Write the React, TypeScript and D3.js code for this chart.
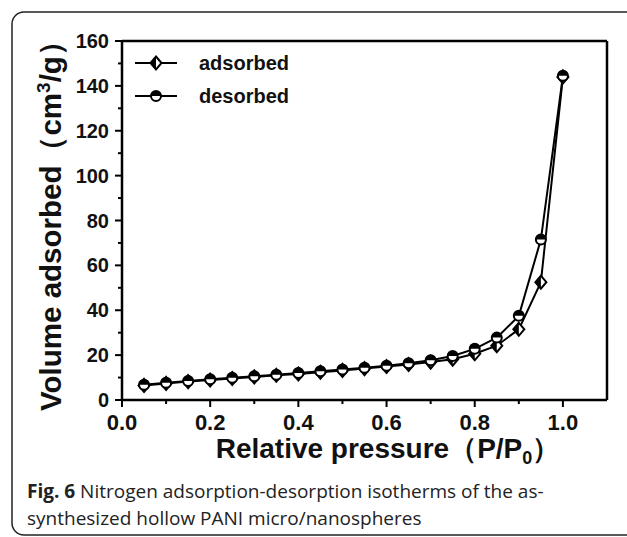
import React from "react";
import * as d3 from "d3";

const pressure = [0.05, 0.1, 0.15, 0.2, 0.25, 0.3, 0.35, 0.4, 0.45, 0.5, 0.55, 0.6, 0.65, 0.7, 0.75, 0.8, 0.85, 0.9, 0.95, 1.0];
const adsorbed = [6.5, 7.4, 8.2, 8.9, 9.6, 10.3, 11.0, 11.6, 12.4, 13.2, 14.0, 14.9, 15.8, 16.9, 18.2, 20.6, 24.2, 31.5, 52.5, 144];
const desorbed = [6.8, 7.7, 8.5, 9.2, 9.9, 10.6, 11.3, 12.0, 12.8, 13.6, 14.4, 15.3, 16.4, 17.7, 19.6, 22.8, 27.8, 37.5, 71.5, 144.5];
const xTicks = [0, 0.2, 0.4, 0.6, 0.8, 1.0];
const xMinor = [0.1, 0.3, 0.5, 0.7, 0.9];
const yTicks = [0, 20, 40, 60, 80, 100, 120, 140, 160];
const yMinor = [10, 30, 50, 70, 90, 110, 130, 150];
const seriesNames = ["adsorbed", "desorbed"];

const W = 627, H = 537;
const left = 122, right = 607, top = 41, bottom = 400;
const FONT = "'Liberation Sans', Arial, sans-serif";

function Diamond({ cx, cy }: { cx: number; cy: number }) {
  const w = 5.5, h = 6.5;
  return (
    <g>
      <path d={`M${cx},${cy - h} L${cx + w},${cy} L${cx},${cy + h} L${cx - w},${cy} Z`} fill="#fff" stroke="#000" strokeWidth={2} />
      <path d={`M${cx},${cy - h} L${cx - w},${cy} L${cx},${cy + h} Z`} fill="#000" />
    </g>
  );
}

function Circle({ cx, cy }: { cx: number; cy: number }) {
  const r = 5;
  return (
    <g>
      <circle cx={cx} cy={cy} r={r} fill="#fff" stroke="#000" strokeWidth={2} />
      <path d={`M${cx - r},${cy} A${r},${r} 0 0 1 ${cx + r},${cy} Z`} fill="#000" />
    </g>
  );
}

export default function App() {
  const x = d3.scaleLinear().domain([0, 1.1]).range([left, right]);
  const y = d3.scaleLinear().domain([0, 160]).range([bottom, top]);
  const line = d3.line<number>().x((_, i) => x(pressure[i])).y((d) => y(d));

  return (
    <svg width={W} height={H} style={{ position: "absolute", left: 0, top: 0, background: "#fff" }}>
      <rect x={0} y={0} width={W} height={H} fill="#fff" />
      <rect x={12} y={12} width={700} height={523} rx={12} ry={12} fill="none" stroke="#222" strokeWidth={1.5} />

      {/* frame */}
      <line x1={left} y1={top} x2={right} y2={top} stroke="#000" strokeWidth={2.5} />
      <line x1={right} y1={top} x2={right} y2={bottom} stroke="#000" strokeWidth={2.5} />
      <line x1={left} y1={bottom} x2={right} y2={bottom} stroke="#000" strokeWidth={2.5} />
      <line x1={left} y1={top} x2={left} y2={bottom} stroke="#000" strokeWidth={2.5} />

      {/* x ticks */}
      {xTicks.map((t) => (
        <g key={"xt" + t}>
          <line x1={x(t)} x2={x(t)} y1={bottom} y2={bottom + 7} stroke="#000" strokeWidth={2} />
          <text x={x(t)} y={430} textAnchor="middle" fontFamily={FONT} fontWeight="bold" fontSize={22} fill="#111">
            {t.toFixed(1)}
          </text>
        </g>
      ))}
      {xMinor.map((t) => (
        <line key={"xm" + t} x1={x(t)} x2={x(t)} y1={bottom} y2={bottom + 4} stroke="#000" strokeWidth={2} />
      ))}

      {/* y ticks */}
      {yTicks.map((t) => (
        <g key={"yt" + t}>
          <line x1={left - 7} x2={left} y1={y(t)} y2={y(t)} stroke="#000" strokeWidth={2} />
          <text x={109} y={y(t) + 7} textAnchor="end" fontFamily={FONT} fontWeight="bold" fontSize={20} fill="#111">
            {t}
          </text>
        </g>
      ))}
      {yMinor.map((t) => (
        <line key={"ym" + t} x1={left - 4} x2={left} y1={y(t)} y2={y(t)} stroke="#000" strokeWidth={2} />
      ))}

      {/* series lines */}
      <path d={line(adsorbed) || ""} fill="none" stroke="#000" strokeWidth={2} />
      <path d={line(desorbed) || ""} fill="none" stroke="#000" strokeWidth={2} />
      {adsorbed.map((v, i) => (
        <Diamond key={"a" + i} cx={x(pressure[i])} cy={y(v)} />
      ))}
      {desorbed.map((v, i) => (
        <Circle key={"d" + i} cx={x(pressure[i])} cy={y(v)} />
      ))}

      {/* legend */}
      {seriesNames.map((name, i) => {
        const ly = 63 + i * 33;
        return (
          <g key={name}>
            <line x1={135} x2={177} y1={ly} y2={ly} stroke="#000" strokeWidth={2} />
            {i === 0 ? <Diamond cx={156} cy={ly} /> : <Circle cx={156} cy={ly} />}
            <text x={199} y={ly + 7} fontFamily={FONT} fontWeight="bold" fontSize={20} fill="#111">
              {name}
            </text>
          </g>
        );
      })}

      {/* axis titles */}
      <text x={388} y={458} textAnchor="middle" fontFamily={FONT} fontWeight="bold" fontSize={28} fill="#111">
        Relative pressure（P/P<tspan fontSize={18} dy={6}>0</tspan><tspan dy={-6}>）</tspan>
      </text>
      <text transform={`translate(61,${(top + bottom) / 2 - 2}) rotate(-90)`} textAnchor="middle" fontFamily={FONT} fontWeight="bold" fontSize={29.5} fill="#111">
        Volume adsorbed（cm<tspan fontSize={19} dy={-11}>3</tspan><tspan dy={11}>/g）</tspan>
      </text>

      {/* caption */}
      <text x={27} y={498} fontFamily="'Open Sans', sans-serif" fontSize={19} fill="#222">
        <tspan fontWeight="bold">Fig. 6</tspan> Nitrogen adsorption-desorption isotherms of the as-
      </text>
      <text x={27} y={525} fontFamily="'Open Sans', sans-serif" fontSize={19} fill="#222">
        synthesized hollow PANI micro/nanospheres
      </text>
    </svg>
  );
}
